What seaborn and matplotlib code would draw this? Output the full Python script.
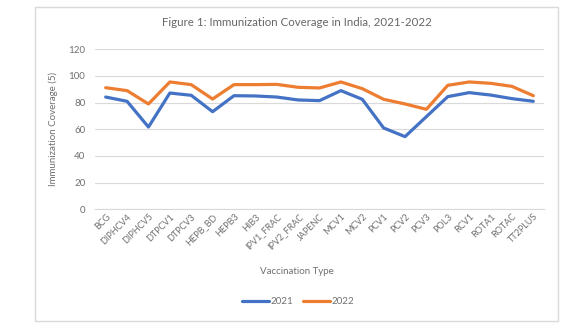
import matplotlib
matplotlib.use("Agg")
import matplotlib.pyplot as plt
import seaborn as sns
import pandas as pd
from matplotlib.patches import Rectangle
from matplotlib.lines import Line2D

categories = ["BCG", "DIPHCV4", "DIPHCV5", "DTPCV1", "DTPCV3", "HEPB_BD", "HEPB3",
              "HIB3", "IPV1_FRAC", "IPV2_FRAC", "JAPENC", "MCV1", "MCV2", "PCV1",
              "PCV2", "PCV3", "POL3", "RCV1", "ROTA1", "ROTAC", "TT2PLUS"]
values_2021 = [84.2, 81.0, 61.7, 87.2, 85.5, 73.2, 85.2, 85.0, 84.2, 82.0, 81.5,
               89.0, 82.5, 61.0, 54.5, 69.5, 84.5, 87.5, 85.7, 83.0, 81.0]
values_2022 = [91.2, 89.0, 79.0, 95.5, 93.5, 82.7, 93.5, 93.5, 93.7, 91.5, 91.0,
               95.5, 90.5, 82.5, 79.0, 75.0, 93.0, 95.5, 94.5, 92.2, 85.2]
years = ["2021", "2022"]
yticks = [0, 20, 40, 60, 80, 100, 120]

df = pd.DataFrame({
    "Vaccination Type": categories * 2,
    "Coverage": values_2021 + values_2022,
    "Year": [years[0]] * len(categories) + [years[1]] * len(categories),
})

sns.set_theme(style="white")
plt.rcParams["font.family"] = ["Lato", "DejaVu Sans"]
text_color = "#707070"

fig = plt.figure(figsize=(5.76, 3.32), dpi=100)
ax = fig.add_axes([95 / 576, 1 - 209.3 / 332, 449 / 576, 160 / 332])

sns.lineplot(data=df, x="Vaccination Type", y="Coverage", hue="Year",
             palette={"2021": "#4472C4", "2022": "#ED7D31"}, linewidth=2.3,
             sort=False, ax=ax, legend=False)

ax.set_xlim(-0.5, len(categories) - 0.5)
ax.set_ylim(0, 120)
ax.set_yticks(yticks)
ax.set_yticklabels([str(v) for v in yticks], color=text_color, fontsize=7)
ax.set_xticks(range(len(categories)))
ax.set_xticklabels(categories, rotation=45, ha="right", rotation_mode="anchor",
                   color=text_color, fontsize=6.5)
ax.tick_params(axis="both", length=0, pad=2)
ax.tick_params(axis="y", pad=7)
ax.grid(axis="y", color="#D9D9D9", linewidth=0.8)
ax.set_axisbelow(True)
for s in ["top", "right", "left"]:
    ax.spines[s].set_visible(False)
ax.spines["bottom"].set_color("#D9D9D9")
ax.spines["bottom"].set_linewidth(0.8)

ax.set_xlabel("Vaccination Type", color=text_color, fontsize=7)
ax.xaxis.set_label_coords((297 - 95) / 449, (209.3 - 267) / 160)
ax.set_ylabel("Immunization Coverage (5)", color=text_color, fontsize=7)
ax.yaxis.set_label_coords((58 - 95) / 449, 0.5)

fig.text(297 / 576, 1 - 22 / 332, "Figure 1: Immunization Coverage in India, 2021-2022",
         ha="center", va="center", color="#666666", fontsize=8.3)

# chart border
fig.patches.append(Rectangle((35 / 576, 1 - 321 / 332), (558 - 35) / 576, (321 - 7) / 332,
                             transform=fig.transFigure, fill=False,
                             edgecolor="#D9D9D9", linewidth=1))

# legend
handles = [Line2D([], [], color="#4472C4", linewidth=2.3),
           Line2D([], [], color="#ED7D31", linewidth=2.3)]
fig.legend(handles, years, loc="center", bbox_to_anchor=(298 / 576, 1 - 302 / 332),
           ncol=2, frameon=False, fontsize=7, handlelength=2.8, handletextpad=0.15,
           columnspacing=1.0, labelcolor=text_color)

fig.savefig("out.png", dpi=100)
